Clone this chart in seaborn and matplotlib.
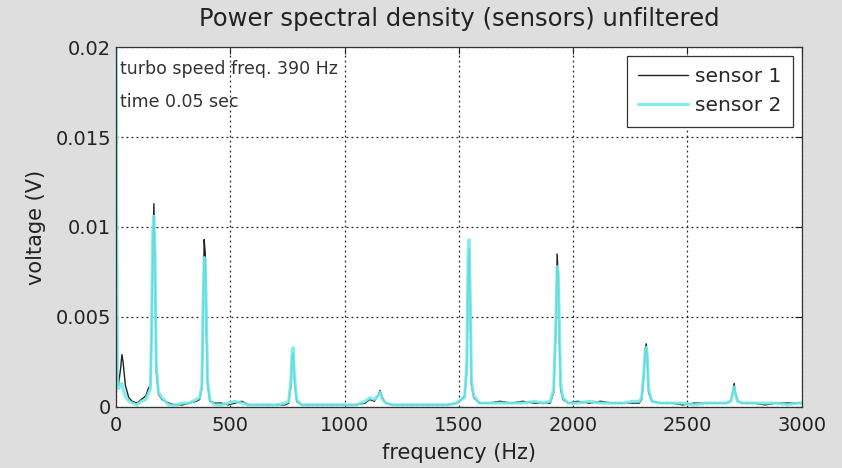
import matplotlib
matplotlib.use("Agg")
import matplotlib.pyplot as plt
import numpy as np
import pandas as pd
import seaborn as sns

# frequency axis (Hz); denser points around the peaks
freq = [0, 5, 10, 20, 25, 30, 40, 55, 70, 90, 110, 130, 140,
        150, 155, 160, 165, 170, 175, 185, 200,
        230, 260, 290, 320, 350, 365,
        375, 380, 385, 390, 395, 400, 410,
        430, 460, 490, 520, 550, 580, 620, 660, 700, 740, 755,
        765, 770, 775, 780, 790, 810,
        850, 900, 950, 1000, 1050, 1090, 1110, 1130, 1145,
        1155, 1165, 1180, 1210,
        1250, 1300, 1350, 1400, 1450, 1490, 1510, 1525,
        1535, 1540, 1545, 1550, 1555, 1565, 1590,
        1630, 1680, 1730, 1780, 1830, 1870, 1900, 1915,
        1925, 1930, 1935, 1940, 1945, 1955, 1980,
        2020, 2070, 2120, 2170, 2220, 2260, 2290, 2300,
        2310, 2315, 2320, 2325, 2330, 2345, 2380,
        2430, 2480, 2530, 2580, 2630, 2670, 2690,
        2700, 2705, 2710, 2720, 2740,
        2790, 2840, 2890, 2940, 2980, 3000]

sensor1 = [0.006, 0.0015, 0.0012, 0.0022, 0.0029, 0.0025, 0.0012, 0.0005, 0.0003, 0.0002, 0.0004, 0.0006, 0.0010,
           0.0012, 0.004, 0.0085, 0.0113, 0.0075, 0.002, 0.0007, 0.0004,
           0.0002, 0.0001, 0.0001, 0.0002, 0.0003, 0.0004,
           0.0010, 0.0045, 0.0093, 0.0085, 0.004, 0.0012, 0.0003,
           0.0002, 0.0002, 0.0001, 0.0002, 0.0003, 0.0001, 0.0001, 0.0001, 0.0001, 0.0001, 0.0002,
           0.0012, 0.0028, 0.003, 0.0015, 0.0003, 0.0001,
           0.0001, 0.0001, 0.0001, 0.0001, 0.0001, 0.0002, 0.0004, 0.0003, 0.0006,
           0.0009, 0.0005, 0.0002, 0.0001,
           0.0001, 0.0001, 0.0001, 0.0001, 0.0001, 0.0002, 0.0004, 0.0006,
           0.002, 0.007, 0.0088, 0.005, 0.0012, 0.0005, 0.0002,
           0.0002, 0.0003, 0.0002, 0.0003, 0.0002, 0.0002, 0.0002, 0.0008,
           0.0045, 0.0085, 0.0072, 0.0035, 0.001, 0.0004, 0.0002,
           0.0003, 0.0002, 0.0003, 0.0002, 0.0002, 0.0002, 0.0002, 0.0004,
           0.0018, 0.0032, 0.0035, 0.0025, 0.0008, 0.0003, 0.0002,
           0.0002, 0.0001, 0.0002, 0.0002, 0.0002, 0.0002, 0.0003,
           0.0009, 0.0013, 0.0008, 0.0003, 0.0002,
           0.0002, 0.0001, 0.0002, 0.0002, 0.0002, 0.0002]

sensor2 = [0.021, 0.0018, 0.0010, 0.0012, 0.0013, 0.0010, 0.0006, 0.0003, 0.0002, 0.0001, 0.0003, 0.0004, 0.0007,
           0.0010, 0.0045, 0.0098, 0.0106, 0.0085, 0.0025, 0.0008, 0.0005,
           0.0001, 0.0001, 0.0002, 0.0002, 0.0004, 0.0005,
           0.0012, 0.0055, 0.0083, 0.0082, 0.005, 0.0015, 0.0004,
           0.0001, 0.0001, 0.0002, 0.0003, 0.0002, 0.0001, 0.0001, 0.0001, 0.0001, 0.0002, 0.0003,
           0.0015, 0.0031, 0.0033, 0.0018, 0.0004, 0.0001,
           0.0001, 0.0001, 0.0001, 0.0001, 0.0001, 0.0003, 0.0005, 0.0004, 0.0006,
           0.0008, 0.0004, 0.0002, 0.0001,
           0.0001, 0.0001, 0.0001, 0.0001, 0.0001, 0.0002, 0.0004, 0.0005,
           0.0025, 0.0085, 0.0093, 0.006, 0.0015, 0.0006, 0.0002,
           0.0002, 0.0002, 0.0002, 0.0002, 0.0003, 0.0002, 0.0003, 0.0010,
           0.005, 0.0078, 0.0075, 0.0045, 0.0014, 0.0005, 0.0002,
           0.0002, 0.0003, 0.0002, 0.0002, 0.0002, 0.0003, 0.0003, 0.0005,
           0.0020, 0.0030, 0.0033, 0.0028, 0.0010, 0.0003, 0.0002,
           0.0002, 0.0002, 0.0001, 0.0002, 0.0002, 0.0002, 0.0003,
           0.0008, 0.0011, 0.0007, 0.0003, 0.0002,
           0.0002, 0.0002, 0.0002, 0.0001, 0.0002, 0.0002]

assert len(freq) == len(sensor1) == len(sensor2)

df = pd.DataFrame({"freq": freq, "sensor 1": sensor1, "sensor 2": sensor2})

sns.set_style("white")
plt.rcParams["font.family"] = ["DejaVu Sans"]

fig, ax = plt.subplots(figsize=(8.42, 4.68), dpi=100)
fig.patch.set_facecolor("#dedede")
fig.subplots_adjust(left=0.138, right=0.952, bottom=0.131, top=0.899)

sns.lineplot(data=df, x="freq", y="sensor 1", ax=ax, color="#222222", lw=1.0,
             label="sensor 1", estimator=None)
sns.lineplot(data=df, x="freq", y="sensor 2", ax=ax, color="#72ecec", lw=2.2,
             label="sensor 2", estimator=None, alpha=0.9)

ax.set_xlim(0, 3000)
ax.set_ylim(0, 0.02)
ax.set_xticks([0, 500, 1000, 1500, 2000, 2500, 3000])
ax.set_yticks([0, 0.005, 0.01, 0.015, 0.02])
ax.set_yticklabels(["0", "0.005", "0.01", "0.015", "0.02"])
ax.grid(True, color="#222222", linestyle=(0, (1.5, 2.5)), lw=0.9)
ax.tick_params(direction="in", top=True, right=True, length=5, labelsize=14, colors="#222222")
ax.tick_params(axis="x", pad=6.5)
for s in ax.spines.values():
    s.set_color("#333333")
    s.set_linewidth(0.9)

ax.set_title("Power spectral density (sensors) unfiltered", fontsize=17.5, color="#222222", pad=15.5)
ax.set_xlabel("frequency (Hz)", fontsize=15, color="#222222", labelpad=6)
ax.set_ylabel("voltage (V)", fontsize=15, color="#222222", labelpad=7)

ax.text(0.005, 0.965, "turbo speed freq. 390 Hz", transform=ax.transAxes, fontsize=12.5,
        color="#333333", va="top", ha="left")
ax.text(0.005, 0.872, "time 0.05 sec", transform=ax.transAxes, fontsize=12.5,
        color="#333333", va="top", ha="left")

leg = ax.legend(loc="upper right", fontsize=14.5, frameon=True, fancybox=False,
                edgecolor="#333333", framealpha=1, handlelength=2.5, borderaxespad=0.45,
                borderpad=0.55, labelspacing=0.5, handletextpad=0.35)
leg.get_frame().set_linewidth(0.9)

fig.savefig("out.png", dpi=100, facecolor=fig.get_facecolor())
